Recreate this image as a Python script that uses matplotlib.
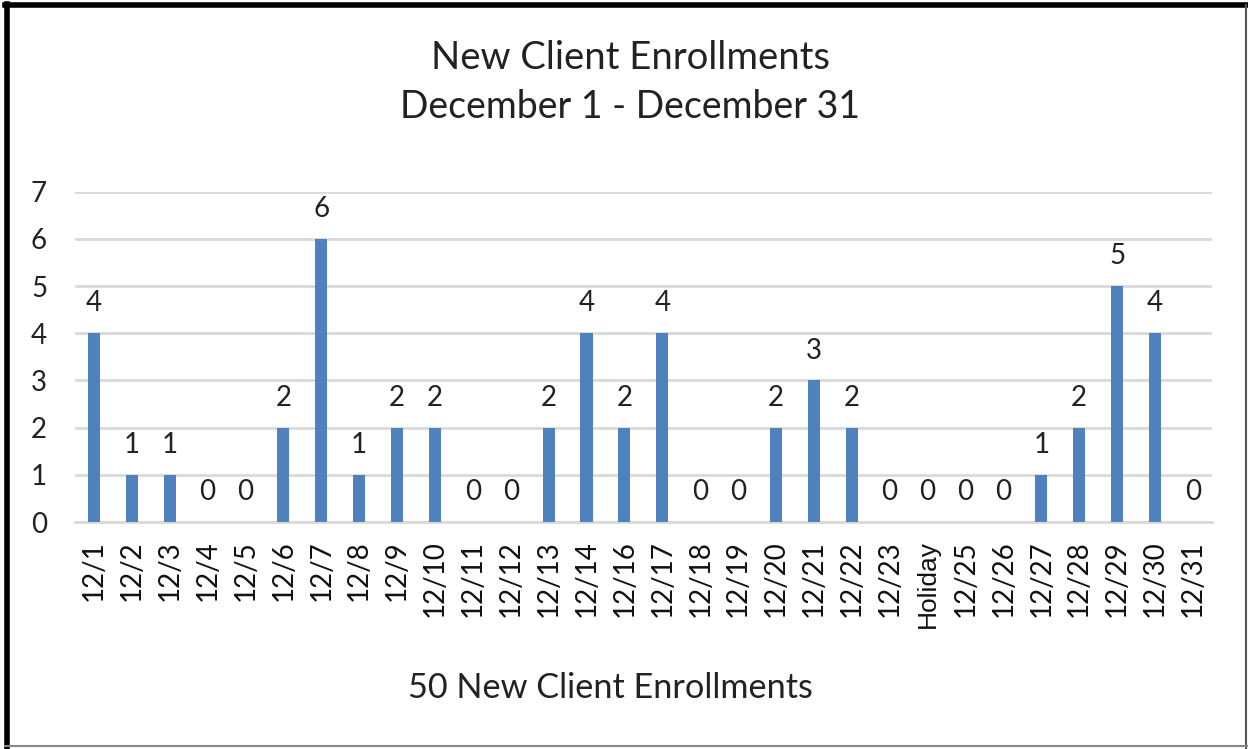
import matplotlib
matplotlib.use("Agg")

import matplotlib.pyplot as plt
from matplotlib.lines import Line2D

days = ["12/1", "12/2", "12/3", "12/4", "12/5", "12/6", "12/7", "12/8", "12/9", "12/10",
        "12/11", "12/12", "12/13", "12/14", "12/16", "12/17", "12/18", "12/19", "12/20",
        "12/21", "12/22", "12/23", "Holiday", "12/25", "12/26", "12/27", "12/28", "12/29",
        "12/30", "12/31"]
enrollments = [4, 1, 1, 0, 0, 2, 6, 1, 2, 2, 0, 0, 2, 4, 2, 4, 0, 0, 2, 3, 2, 0, 0, 0, 0,
               1, 2, 5, 4, 0]
y_ticks = [0, 1, 2, 3, 4, 5, 6, 7]

font = ["Lato", "DejaVu Sans"]
plt.rcParams["font.family"] = font

fig = plt.figure(figsize=(12.48, 7.49), dpi=100)
ax = fig.add_axes([0.060, 0.303, 0.911, 0.441])

x = range(len(days))
bars = ax.bar(x, enrollments, width=0.32, color="#4f81bd", zorder=3)
for xi, v in zip(x, enrollments):
    ax.text(xi, v + 0.36, str(v), ha="center", va="bottom", fontsize=20, color="#222222")

ax.set_xlim(-0.5, len(days) - 0.5)
ax.set_ylim(0, 7)
ax.set_yticks(y_ticks)
ax.set_yticklabels([str(t) for t in y_ticks], fontsize=20, color="#222222")
ax.set_xticks(list(x))
ax.set_xticklabels(days, rotation=90, fontsize=20, color="#111111")
for lbl in ax.get_xticklabels():
    if lbl.get_text() == "Holiday":
        lbl.set_fontfamily(["Liberation Sans", "DejaVu Sans"])
        lbl.set_fontsize(19)
ax.tick_params(axis="both", length=0)
ax.tick_params(axis="x", pad=13)
ax.tick_params(axis="y", pad=20)

ax.yaxis.grid(True, color="#d9d9d9", linewidth=2, zorder=0)
for side in ["top", "right", "left"]:
    ax.spines[side].set_visible(False)
ax.spines["bottom"].set_color("#d9d9d9")
ax.spines["bottom"].set_linewidth(2)

fig.text(0.505, 0.922, "New Client Enrollments", ha="center", va="center", fontsize=27.5, color="#222222")
fig.text(0.505, 0.857, "December 1 - December 31", ha="center", va="center", fontsize=27, color="#222222")
fig.text(0.489, 0.082, "50 New Client Enrollments", ha="center", va="center", fontsize=24.7, color="#222222")

# outer frame: thick black on top/left, thin gray on right/bottom
fig.add_artist(Line2D([0.006, 0.006], [0.0, 0.994], transform=fig.transFigure, color="black", linewidth=4))
fig.add_artist(Line2D([0.004, 1.0], [0.993, 0.993], transform=fig.transFigure, color="black", linewidth=4))
fig.add_artist(Line2D([0.998, 0.998], [0.0, 0.993], transform=fig.transFigure, color="#555555", linewidth=1.5))
fig.add_artist(Line2D([0.004, 1.0], [0.004, 0.004], transform=fig.transFigure, color="#888888", linewidth=1.5))

fig.savefig("out.png", dpi=100)
